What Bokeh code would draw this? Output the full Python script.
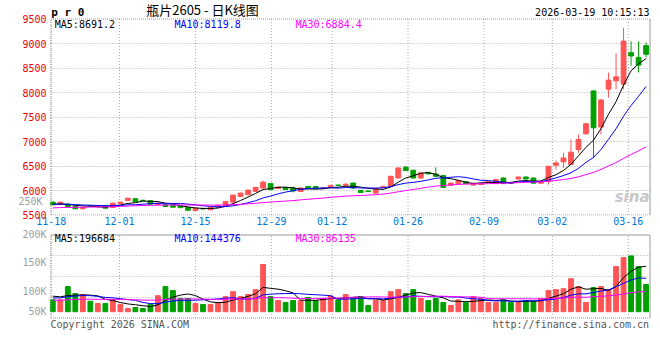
import numpy as np
from bokeh.plotting import figure
from bokeh.models import ColumnDataSource, Range1d, FixedTicker, Label, LinearAxis
from bokeh.layouts import column
from bokeh.embed import file_html
from bokeh.resources import INLINE

# ---------------- data ----------------
dates = ["11-18", "11-19", "11-20", "11-21", "11-24", "11-25", "11-26", "11-27", "11-28",
         "12-01", "12-02", "12-03", "12-04", "12-05", "12-08", "12-09", "12-10", "12-11", "12-12",
         "12-15", "12-16", "12-17", "12-18", "12-19", "12-22", "12-23", "12-24", "12-25", "12-26",
         "12-29", "12-30", "12-31",
         "01-05", "01-06", "01-07", "01-08", "01-09", "01-12", "01-13", "01-14", "01-15", "01-16",
         "01-19", "01-20", "01-21", "01-22", "01-23", "01-26", "01-27", "01-28", "01-29", "01-30",
         "02-02", "02-03", "02-04", "02-05", "02-06", "02-09", "02-10", "02-11", "02-12", "02-13",
         "02-24", "02-25", "02-26", "02-27",
         "03-02", "03-03", "03-04", "03-05", "03-06", "03-09", "03-10", "03-11", "03-12", "03-13",
         "03-16", "03-17", "03-18", "03-19"]

opens = [5762, 5721, 5721, 5674, 5627, 5690, 5680, 5695, 5654, 5730,
         5797, 5832, 5800, 5791, 5709, 5709, 5688, 5680, 5654, 5592,
         5630, 5606, 5660, 5695, 5762, 5879, 5914, 5982, 6050, 6140,
         6040, 6060, 6050, 5980, 6080, 6080, 6040, 6060, 6110, 6105,
         6152, 6002, 5990, 5947, 6060, 6085, 6255, 6474, 6413, 6255,
         6370, 6337, 6304, 6105, 6140, 6180, 6110, 6120, 6160, 6140,
         6255, 6160, 6235, 6275, 6255, 6150, 6187, 6515, 6583, 6530,
         6837, 7157, 8033, 7295, 8068, 8238, 8170, 8812, 8717, 8956]
highs = [5775, 5770, 5730, 5680, 5665, 5700, 5700, 5705, 5750, 5770,
         5850, 5840, 5810, 5800, 5750, 5715, 5695, 5690, 5660, 5645,
         5640, 5660, 5700, 5785, 5910, 5955, 6015, 6070, 6201, 6150,
         6080, 6070, 6080, 6060, 6090, 6090, 6060, 6120, 6125, 6140,
         6160, 6010, 6000, 6045, 6095, 6300, 6470, 6500, 6420, 6365,
         6380, 6474, 6310, 6160, 6210, 6190, 6160, 6150, 6190, 6230,
         6270, 6170, 6285, 6290, 6260, 6175, 6500, 6612, 6768, 7042,
         7145, 7380, 8040, 7860, 8408, 8798, 9319, 9044, 9044, 9024]
lows = [5700, 5715, 5665, 5620, 5615, 5675, 5670, 5635, 5650, 5725,
        5790, 5765, 5785, 5715, 5700, 5670, 5655, 5645, 5590, 5585,
        5615, 5600, 5655, 5690, 5755, 5870, 5905, 5975, 6040, 6010,
        6030, 6010, 5960, 5975, 6030, 6030, 6030, 6050, 6095, 6100,
        6040, 5955, 5970, 5940, 6055, 6080, 6250, 6400, 6250, 6245,
        6330, 6280, 6055, 6100, 6135, 6130, 6100, 6115, 6155, 6135,
        6135, 6140, 6230, 6230, 6145, 6140, 6120, 6427, 6460, 6520,
        6768, 7140, 6665, 7145, 7896, 8068, 8068, 8546, 8408, 8716]
closes = [5709, 5762, 5674, 5627, 5654, 5685, 5690, 5640, 5742, 5762,
          5844, 5770, 5795, 5721, 5742, 5674, 5660, 5650, 5598, 5640,
          5625, 5654, 5695, 5777, 5906, 5947, 6008, 6064, 6172, 6017,
          6070, 6020, 5990, 6050, 6040, 6040, 6055, 6100, 6105, 6130,
          6050, 5961, 5980, 6037, 6085, 6290, 6460, 6406, 6255, 6357,
          6340, 6290, 6064, 6152, 6201, 6140, 6150, 6140, 6180, 6222,
          6140, 6145, 6275, 6235, 6150, 6170, 6494, 6562, 6665, 6782,
          7042, 7362, 7280, 7848, 8252, 8320, 9050, 8745, 8560, 8780]
volumes = [51000, 51000, 108000, 78000, 74000, 45000, 35000, 35000, 51000, 32000,
           14000, 18000, 14000, 32000, 69000, 108000, 91000, 57000, 57000, 35000,
           31000, 31000, 40000, 65000, 86000, 65000, 74000, 95000, 203000, 65000,
           48000, 40000, 48000, 48000, 61000, 48000, 57000, 68000, 51000, 74000,
           61000, 65000, 27000, 51000, 48000, 86000, 95000, 78000, 95000, 57000,
           48000, 57000, 40000, 27000, 51000, 40000, 65000, 57000, 40000, 40000,
           51000, 40000, 44000, 48000, 44000, 57000, 91000, 95000, 99000, 142000,
           108000, 40000, 104000, 108000, 95000, 194000, 233000, 240000, 194000, 117000]

# sessions before 11-18 (estimated from where the average lines start)
prior_closes = [5560, 5575, 5590, 5580, 5600, 5610, 5595, 5585, 5600, 5620,
                5615, 5630, 5625, 5610, 5620, 5640, 5635, 5630, 5650, 5620,
                5680, 5700, 5720, 5730, 5720, 5740, 5710, 5720, 5721]
prior_volumes = [40000, 45000, 38000, 50000, 42000, 47000, 36000, 44000, 52000, 41000,
                 39000, 48000, 45000, 43000, 50000, 42000, 46000, 40000, 44000, 48000,
                 48000, 55000, 50000, 52000, 50000, 65000, 80000, 70000, 68000]

tick_dates = ["11-18", "12-01", "12-15", "12-29", "01-12", "01-26", "02-09", "03-02", "03-16"]
price_ticks = [5500, 6000, 6500, 7000, 7500, 8000, 8500, 9000, 9500]
vol_labels = ["250K", "200K", "150K", "100K", "50K"]

title_text = "瓶片2605 - 日K线图"
code_text = "p r 0"
time_text = "2026-03-19 10:15:13"
ma_price_text = ["MA5:8691.2", "MA10:8119.8", "MA30:6884.4"]
ma_vol_text = ["MA5:196684", "MA10:144376", "MA30:86135"]
copyright_text = "Copyright 2026 SINA.COM"
url_text = "http://finance.sina.com.cn"

# ---------------- derived ----------------
n = len(dates)
xs = list(range(n))
RED, GREEN = "#ff5555", "#00a000"
colors = [RED if c >= o else GREEN for o, c in zip(opens, closes)]


def moving(prior, vals, k):
    full = np.array(prior + vals, dtype=float)
    off = len(prior)
    return [full[off + i - k + 1: off + i + 1].mean() for i in range(len(vals))]


src = ColumnDataSource(dict(
    x=xs, o=opens, h=highs, l=lows, c=closes,
    top=[max(a, b) for a, b in zip(opens, closes)],
    bot=[min(a, b) for a, b in zip(opens, closes)],
    color=colors, vol=volumes,
    ma5=moving(prior_closes, closes, 5), ma10=moving(prior_closes, closes, 10),
    ma30=moving(prior_closes, closes, 30),
    vma5=moving(prior_volumes, volumes, 5), vma10=moving(prior_volumes, volumes, 10),
    vma30=moving(prior_volumes, volumes, 30),
))
tick_idx = [dates.index(d) for d in tick_dates]

MONO = "DejaVu Sans Mono"
GRID = "#aaaaaa"
BORDER = "#999999"
MA_COLORS = ["black", "#0000ff", "#ff00ff"]

# ---------------- geometry (pixels) ----------------
CANDLE0_PX, STEP_PX = 52.3, 7.51          # centre of first session, session spacing
FL, FW, FR_PAD = 49, 602, 1               # frame spans px 49..651
PANEL_L, PANEL_R = 50.5, 649.5            # drawn panel borders
GRID0_PX, GRID_STEP_PX = 50.7, 7.593      # the original spaces its date grid slightly wider


def xd(px):
    return (px - CANDLE0_PX) / STEP_PX


x_range = Range1d(xd(FL), xd(FL + FW))
XL, XR = xd(PANEL_L), xd(PANEL_R)
grid_x = [round(xd(GRID0_PX + i * GRID_STEP_PX), 4) for i in tick_idx]

# price panel: 9500 at px 18.5, 5500 at px 214.5; frame spans px 0..215
PP_TOP, PP_BOT, MF_H = 18.5, 214.5, 215
P_LO, P_HI = price_ticks[0], price_ticks[-1]
P_PER_PX = (P_HI - P_LO) / (PP_BOT - PP_TOP)


def yp(py):
    return P_LO + (PP_BOT - py) * P_PER_PX


# volume panel drawn between px 234.5 and 317.5; its frame spans px 228..334
VP_TOP, VP_BOT = 234.5, 317.5
V_LO, V_HI = -27100, 330000
V_PER_PX = (V_HI - V_LO) / (VP_BOT - VP_TOP)
VF_TOP, VF_BOT = 228, 334


def yv(py):
    return V_HI - (py - VP_TOP) * V_PER_PX


def style_axis(ax, color, standoff):
    ax.axis_line_color = None
    ax.major_tick_line_color = None
    ax.minor_tick_line_color = None
    ax.major_tick_out = 0
    ax.major_tick_in = 0
    ax.minor_tick_out = 0
    ax.minor_tick_in = 0
    ax.major_label_standoff = standoff
    ax.major_label_text_color = color
    ax.major_label_text_font = MONO
    ax.major_label_text_font_size = "10px"


def txt(fig, x, y, text, color="black", size="10px", align="left", font=MONO, style="normal",
        baseline="middle"):
    fig.add_layout(Label(x=x, y=y, text=text, text_color=color, text_font_size=size,
                         text_align=align, text_font=font, text_font_style=style,
                         text_baseline=baseline))


def borders(fig, lo, hi, top_dash, left_dash, bottom_dash, right_dash):
    for x0, y0, x1, y1, dash in [(XL, hi, XR, hi, top_dash), (XL, lo, XL, hi, left_dash),
                                 (XL, lo, XR, lo, bottom_dash), (XR, lo, XR, hi, right_dash)]:
        fig.segment(x0=[x0], y0=[y0], x1=[x1], y1=[y1], line_color=BORDER, line_width=1,
                    line_dash=dash)


# ---------------- price panel ----------------
p1 = figure(frame_width=FW, frame_height=MF_H, x_range=x_range,
            y_range=Range1d(yp(MF_H), yp(0)),
            output_backend="svg", toolbar_location=None,
            min_border_left=FL, min_border_right=FR_PAD, min_border_top=0, min_border_bottom=13)
p1.outline_line_color = None
p1.xgrid.visible = False
p1.ygrid.ticker = FixedTicker(ticks=price_ticks[1:-1])
p1.ygrid.grid_line_color = GRID
p1.ygrid.grid_line_dash = "1 2"
p1.segment(x0=grid_x, y0=P_LO, x1=grid_x, y1=P_HI, line_color=GRID, line_dash="1 2")

p1.segment(x0="x", y0="h", x1="x", y1="l", color="color", line_width=1, source=src)
p1.vbar(x="x", top="top", bottom="bot", width=0.64, fill_color="color", line_color="color",
        line_width=1, source=src)
for key, col in zip(["ma5", "ma10", "ma30"], MA_COLORS):
    p1.line("x", key, color=col, line_width=1, source=src)
borders(p1, P_LO, P_HI, "1 1", "1 1", "1 1", "solid")

pax = p1.yaxis[0]
pax.ticker = FixedTicker(ticks=price_ticks)
style_axis(pax, "#ee0000", 3)
# grey volume-scale label that the original draws inside the price panel's margin
v250 = int(round(yp(200.7)))
gax = LinearAxis(ticker=FixedTicker(ticks=[v250]), major_label_overrides={v250: vol_labels[0]})
style_axis(gax, "#a0a0a0", -23)
p1.add_layout(gax, "left")

dax = p1.xaxis[0]
dax.ticker = FixedTicker(ticks=grid_x)
dax.major_label_overrides = {g: d for g, d in zip(grid_x, tick_dates)}
style_axis(dax, "#0078d7", 1)

txt(p1, xd(50.7), yp(12.3), code_text, size="11px", style="bold")
txt(p1, xd(202), yp(8.5), title_text, size="13px", align="center", font="Noto Sans CJK SC")
txt(p1, xd(649), yp(12.2), time_text, align="right")
for t, px, col in zip(ma_price_text, [54.3, 174, 295], MA_COLORS):
    txt(p1, xd(px), yp(24), t, color=col)
txt(p1, xd(649), yp(205), "sina", color="#c8c8c8", size="15px", align="right",
    font="DejaVu Sans", style="bold italic", baseline="bottom")

# ---------------- volume panel ----------------
p2 = figure(frame_width=FW, frame_height=VF_BOT - VF_TOP, x_range=x_range,
            y_range=Range1d(yv(VF_BOT), yv(VF_TOP)),
            output_backend="svg", toolbar_location=None,
            min_border_left=FL, min_border_right=FR_PAD, min_border_top=0, min_border_bottom=0)
p2.outline_line_color = None
p2.xaxis.visible = False
p2.xgrid.visible = False
p2.ygrid.ticker = FixedTicker(ticks=[V_LO + (V_HI - V_LO) * k / 4 for k in (1, 2, 3)])
p2.ygrid.grid_line_color = GRID
p2.ygrid.grid_line_dash = "1 2"
p2.segment(x0=grid_x, y0=V_LO, x1=grid_x, y1=V_HI, line_color=GRID, line_dash="1 2")

p2.vbar(x="x", top="vol", bottom=0, width=0.64, fill_color="color", line_color="color",
        line_width=1, source=src)
for key, col in zip(["vma5", "vma10", "vma30"], MA_COLORS):
    p2.line("x", key, color=col, line_width=1, source=src)
borders(p2, V_LO, V_HI, "solid", "1 1", "1 1", "solid")

vticks = [int(round(yv(py))) for py in [232, 261.7, 290.7, 310.7]]
vax = p2.yaxis[0]
vax.ticker = FixedTicker(ticks=vticks)
vax.major_label_overrides = {t: lab for t, lab in zip(vticks, vol_labels[1:])}
style_axis(vax, "#a0a0a0", 3)

for t, px, col in zip(ma_vol_text, [54.3, 174, 295], MA_COLORS):
    txt(p2, xd(px), yv(237.5), t, color=col)
txt(p2, xd(50), yv(324), copyright_text, color="#555555")
txt(p2, xd(648.5), yv(324), url_text, color="#555555", align="right")

layout = column(p1, p2, spacing=0)
open("out.html", "w").write(file_html(layout, INLINE))
